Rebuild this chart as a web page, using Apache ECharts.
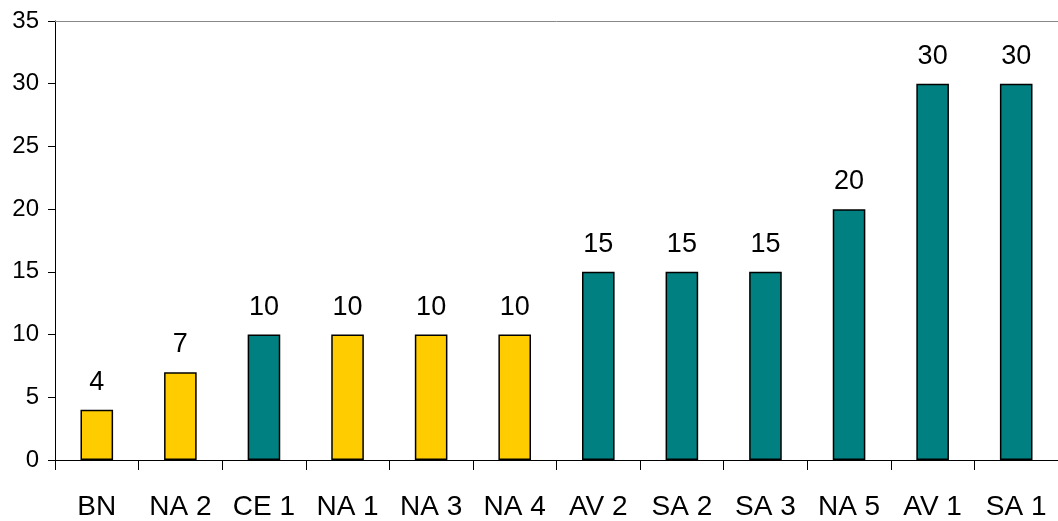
<!DOCTYPE html>
<html>
<head>
<meta charset="utf-8">
<script src="https://cdn.jsdelivr.net/npm/echarts@6/dist/echarts.min.js"></script>
<style>
  html, body { margin: 0; padding: 0; background: #fff; }
  #chart { width: 1058px; height: 521px; }
</style>
</head>
<body>
<div id="chart"></div>
<script>
const categories = ['BN', 'NA 2', 'CE 1', 'NA 1', 'NA 3', 'NA 4', 'AV 2', 'SA 2', 'SA 3', 'NA 5', 'AV 1', 'SA 1']
const values = [4, 7, 10, 10, 10, 10, 15, 15, 15, 20, 30, 30]
const groups = ['y', 'y', 't', 'y', 'y', 'y', 't', 't', 't', 't', 't', 't']

const colorMap = { y: '#FFCC00', t: '#008080' }
const font = 'Liberation Sans, Arial'

const chart = echarts.init(document.getElementById('chart'))

const option = {
  animation: false,
  grid: { left: 55, top: 21, width: 1011, height: 440 },
  xAxis: [
    {
      type: 'category',
      data: categories,
      axisLine: { lineStyle: { color: '#000', width: 1 } },
      axisTick: { show: true, length: 10, lineStyle: { color: '#000' } },
      axisLabel: {
        color: '#000',
        fontFamily: font,
        fontSize: 28,
        letterSpacing: -1.5,
        margin: 33
      },
      splitLine: { show: false }
    },
    {
      type: 'category',
      position: 'top',
      data: categories,
      axisLine: { lineStyle: { color: '#888', width: 1 } },
      axisTick: { show: false },
      axisLabel: { show: false }
    }
  ],
  yAxis: {
    type: 'value',
    min: 0,
    max: 35,
    interval: 5,
    axisLine: { show: true, lineStyle: { color: '#000' } },
    axisTick: { show: true, length: 7, lineStyle: { color: '#000' } },
    axisLabel: {
      color: '#000',
      fontFamily: font,
      fontSize: 24,
      letterSpacing: -1,
      margin: 16
    },
    splitLine: { show: false }
  },
  series: [
    {
      type: 'bar',
      barWidth: '39%',
      data: values.map((v, i) => ({
        value: v,
        itemStyle: { color: colorMap[groups[i]] }
      })),
      itemStyle: { borderColor: '#000', borderWidth: 1.5 },
      label: {
        show: true,
        position: 'top',
        distance: 14,
        color: '#000',
        fontFamily: font,
        fontSize: 27,
        letterSpacing: -1
      }
    }
  ]
}

chart.setOption(option)
</script>
</body>
</html>
